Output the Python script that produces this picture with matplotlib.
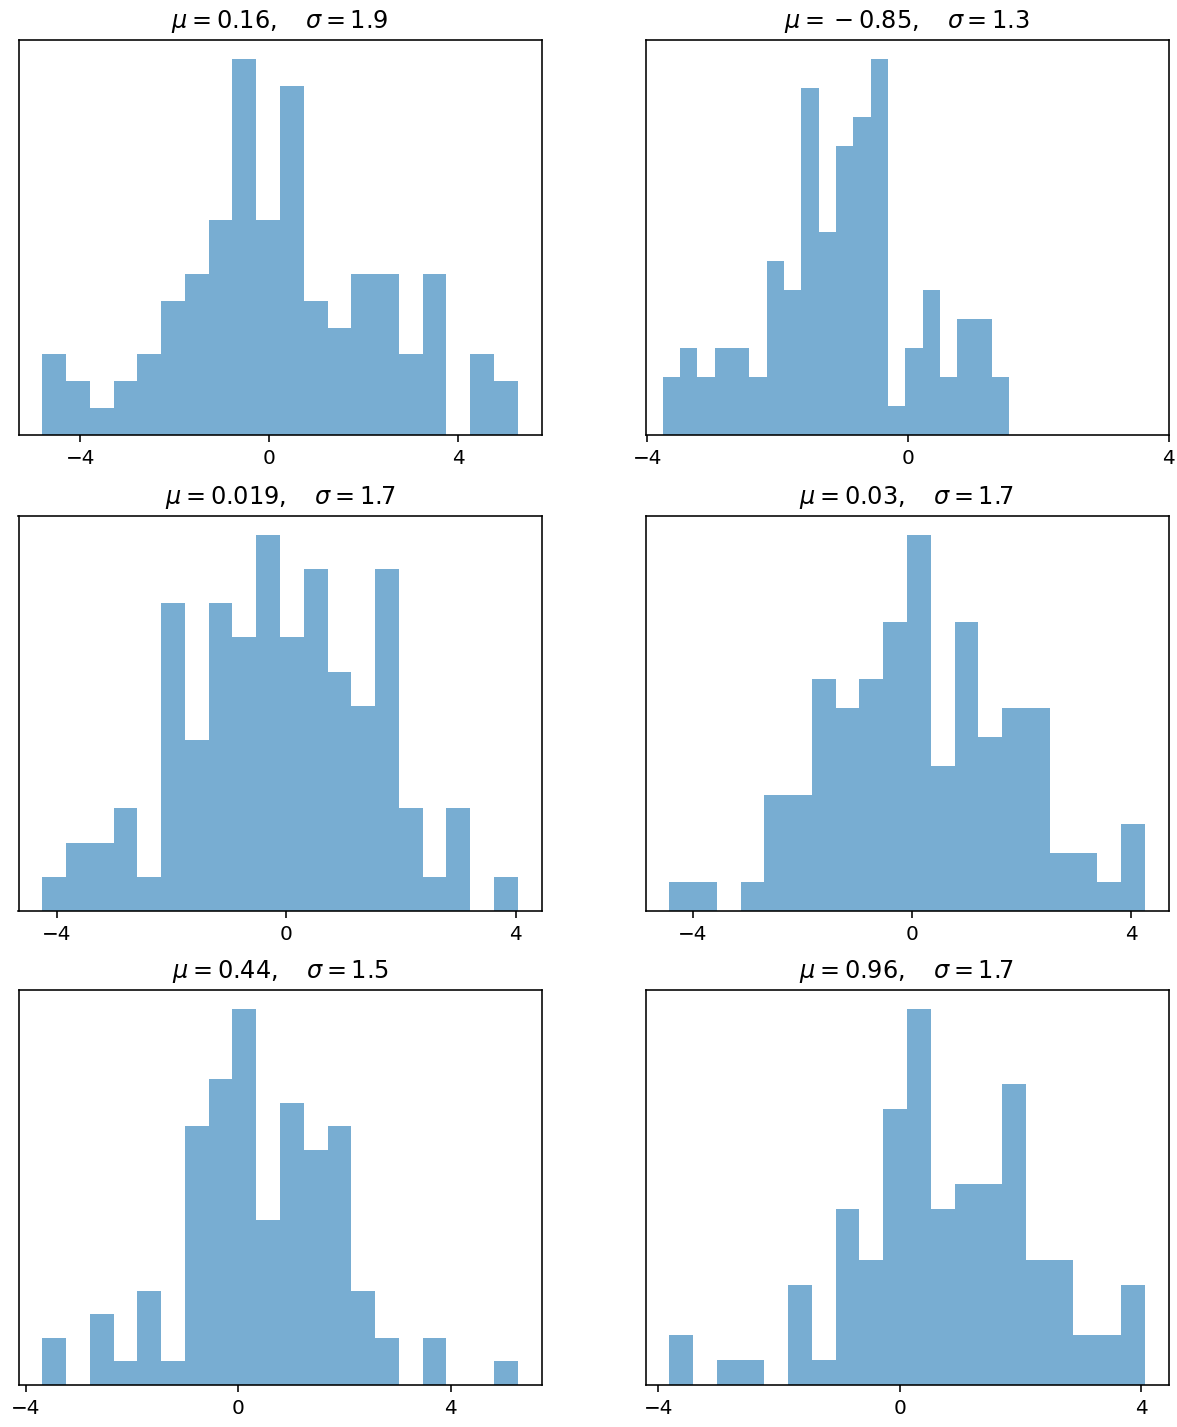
import numpy as np
import matplotlib
matplotlib.use("Agg")
from matplotlib import pyplot as plt

# six samples of 100 points, 20 bins each (bin range)
mus = [0.16, -0.85, 0.019, 0.03, 0.44, 0.96]
sigmas = [1.9, 1.3, 1.7, 1.7, 1.5, 1.7]
bin_lo = [-4.80, -3.764, -4.249, -4.429, -3.687, -3.819]
bin_hi = [5.253, 1.553, 4.037, 4.247, 5.259, 4.055]

counts_1 = [3, 2, 1, 2, 3, 5, 6, 8, 14, 8, 13, 5, 4, 6, 6, 3, 6, 0, 3, 2]
counts_2 = [2, 3, 2, 3, 3, 2, 6, 5, 12, 7, 10, 11, 13, 1, 3, 5, 2, 4, 4, 2]
counts_3 = [1, 2, 2, 3, 1, 9, 5, 9, 8, 11, 8, 10, 7, 6, 10, 3, 1, 3, 0, 1]
counts_4 = [1, 1, 0, 1, 4, 4, 8, 7, 8, 10, 13, 5, 10, 6, 7, 7, 2, 2, 1, 3]
counts_5 = [2, 0, 3, 1, 4, 1, 11, 13, 16, 7, 12, 10, 11, 4, 2, 0, 2, 0, 0, 1]
counts_6 = [2, 0, 1, 1, 0, 4, 1, 7, 5, 11, 15, 7, 8, 8, 12, 5, 5, 2, 2, 4]
all_counts = [counts_1, counts_2, counts_3, counts_4, counts_5, counts_6]

W, H = 1177, 1427
fig = plt.figure(figsize=(W / 144, H / 144), dpi=144)

col_left = [18.5, 645.5]
row_top = [40, 516, 990]
ax_w, ax_h = 523, 395

for i in range(6):
    r, c = divmod(i, 2)
    ax = fig.add_axes([col_left[c] / W, 1 - (row_top[r] + ax_h) / H, ax_w / W, ax_h / H])
    edges = np.linspace(bin_lo[i], bin_hi[i], len(all_counts[i]) + 1)
    ax.stairs(all_counts[i], edges, fill=True, color="C0", alpha=0.6)
    ax.set_ylim(0, max(all_counts[i]) * 1.05)
    ax.set_yticks([])
    ax.set_xticks([-4, 0, 4])
    # old mathtext put binary spacing around the minus after '='
    title = r"$\mu=%.2g,\quad\sigma=%.2g$" % (mus[i], sigmas[i])
    ax.set_title(title.replace("=-", "={}-"))

fig.savefig("out.png", dpi=144)
